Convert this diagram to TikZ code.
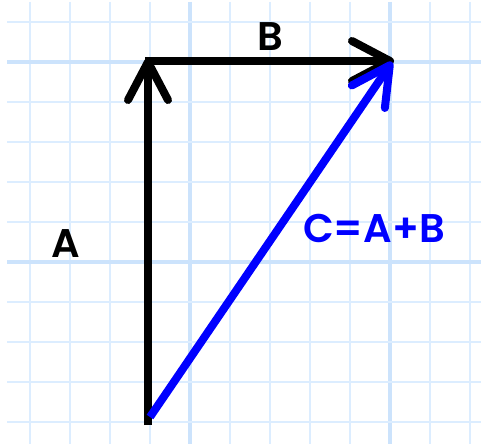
\documentclass[tikz,border=0pt]{standalone}
\usepackage{fontspec}
\setmainfont{Poppins}[BoldFont={* SemiBold}]
\usetikzlibrary{arrows.meta}
\definecolor{gridminor}{RGB}{220,237,255}
\definecolor{gridmajor}{RGB}{204,227,252}
\definecolor{vecblue}{RGB}{0,0,255}
\tikzset{
  minorline/.style={gridminor, line width=2.6pt},
  majorline/.style={gridmajor, line width=3.6pt},
  vecline/.style={line width=8pt, -{Straight Barb[length=38pt,width=40pt,round]}},
  lbl/.style={font=\fontsize{40}{40}\selectfont\bfseries, inner sep=0pt}
}
\begin{document}
\begin{tikzpicture}[x=1pt,y=-1pt]
\useasboundingbox (0,0) rectangle (481,444);
\fill[white] (0,0) rectangle (481,444);
% grid
\foreach \x in {30,70,110,150,230,270,310,350,430,470}
  \draw[minorline] (\x,2) -- (\x,444);
\foreach \x in {190,390}
  \draw[majorline] (\x,2) -- (\x,444);
\foreach \y in {22,102,142,182,222,302,342,382,422}
  \draw[minorline] (7,\y) -- (481,\y);
\foreach \y in {62,262}
  \draw[majorline] (7,\y) -- (481,\y);
% points
\coordinate (O) at (148,425);
\coordinate (Oc) at (150,417);
\coordinate (P) at (148,58);
\coordinate (Pb) at (145,61);
\coordinate (Q) at (394,61);
\coordinate (Qc) at (392,62);
% vectors
\draw[vecline] (O) -- (P);
\draw[vecline] (Pb) -- (Q);
\draw[vecline, vecblue] (Oc) -- (Qc);
% labels
\node[lbl] (labB) at (270,37) {B};
\node[lbl] (labA) at (66,244) {A};
\node[lbl, text=vecblue] (labC) at (374,228) {C=A+B};
\end{tikzpicture}
\end{document}
